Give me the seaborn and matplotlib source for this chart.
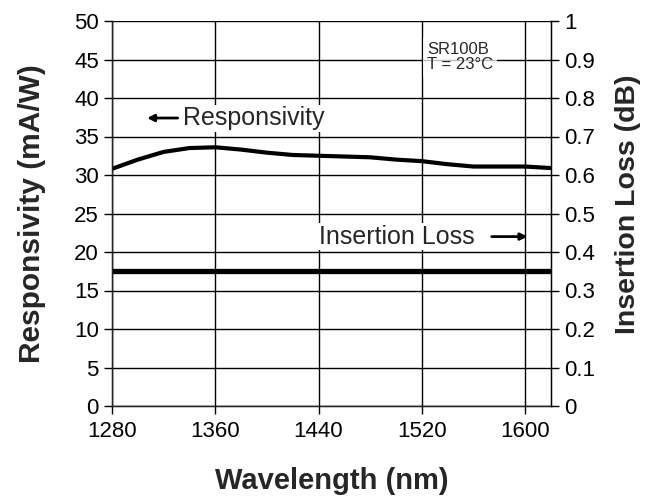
import pandas as pd
import seaborn as sns
import matplotlib.pyplot as plt

# Responsivity curve
wavelength = [1280, 1300, 1320, 1340, 1360, 1380, 1400, 1420, 1440, 1460,
              1480, 1500, 1520, 1540, 1560, 1580, 1600, 1620]
responsivity = [30.8, 32.0, 33.0, 33.5, 33.6, 33.3, 32.9, 32.6, 32.5, 32.4,
                32.3, 32.0, 31.8, 31.4, 31.1, 31.1, 31.1, 30.9]

# Insertion loss (right axis), flat
il_wavelength = [1280, 1620]
insertion_loss = [0.35, 0.35]

x_ticks = [1280, 1360, 1440, 1520, 1600]
resp_ticks = list(range(0, 51, 5))
il_ticks = [0, 0.1, 0.2, 0.3, 0.4, 0.5, 0.6, 0.7, 0.8, 0.9, 1]
il_labels = ["0", "0.1", "0.2", "0.3", "0.4", "0.5", "0.6", "0.7", "0.8", "0.9", "1"]

sns.set_style("white")
plt.rcParams['font.family'] = ['Liberation Sans', 'DejaVu Sans']

resp_df = pd.DataFrame({'wavelength': wavelength, 'responsivity': responsivity})
il_df = pd.DataFrame({'wavelength': il_wavelength, 'il': insertion_loss})

fig = plt.figure(figsize=(6.57, 5.0), dpi=100)
ax = fig.add_axes([0.1705, 0.188, 0.668, 0.770])

sns.lineplot(x='wavelength', y='responsivity', data=resp_df, ax=ax,
             color='black', linewidth=3.0)
ax.set_xlim(1280, 1620)
ax.set_ylim(0, 50)
ax.set_xticks(x_ticks)
ax.set_yticks(resp_ticks)
ax.grid(True, color='black', linewidth=1.0)
ax.tick_params(direction='out', length=6, width=1, color='black',
               labelsize=16, colors='black', left=True, bottom=True)
ax.tick_params(axis='x', pad=5)
ax.spines['top'].set_visible(False)
for s in ['left', 'bottom', 'right']:
    ax.spines[s].set_color('black')
    ax.spines[s].set_linewidth(1.0)
ax.set_xlabel("Wavelength (nm)", fontsize=21, fontweight='bold', labelpad=18)
ax.set_ylabel("Responsivity (mA/W)", fontsize=21.5, fontweight='bold')
ax.yaxis.set_label_coords(-0.15, 0.5)

ax2 = ax.twinx()
sns.lineplot(x='wavelength', y='il', data=il_df, ax=ax2,
             color='black', linewidth=3.8)
ax2.set_ylim(0, 1)
ax2.set_yticks(il_ticks)
ax2.set_yticklabels(il_labels)
ax2.tick_params(direction='out', length=6, width=1, color='black',
                labelsize=16, colors='black', right=True)
ax2.spines['top'].set_visible(False)
ax2.spines['right'].set_color('black')
ax2.set_ylabel("Insertion Loss (dB)", fontsize=20.5, fontweight='bold')
ax2.yaxis.set_label_coords(1.145, 0.525)

# annotations
box = dict(facecolor='white', edgecolor='none', pad=1)
ax.annotate("", xy=(1305, 37.4), xytext=(1333, 37.4),
            arrowprops=dict(arrowstyle='-|>', color='black', lw=2, mutation_scale=10))
ax.text(1335, 37.4, "Responsivity", fontsize=18, va='center', ha='left', bbox=box)
ax.text(1440, 22.0, "Insertion Loss", fontsize=18, va='center', ha='left', bbox=box)
ax.annotate("", xy=(1604, 22.0), xytext=(1572, 22.0),
            arrowprops=dict(arrowstyle='-|>', color='black', lw=2, mutation_scale=10))
ax.text(1524, 45.3, "SR100B\nT = 23°C", fontsize=12, va='center', ha='left',
        linespacing=1.05,
        bbox=dict(facecolor='white', edgecolor='none', alpha=0.75, pad=3))

fig.savefig("out.png", dpi=100)
